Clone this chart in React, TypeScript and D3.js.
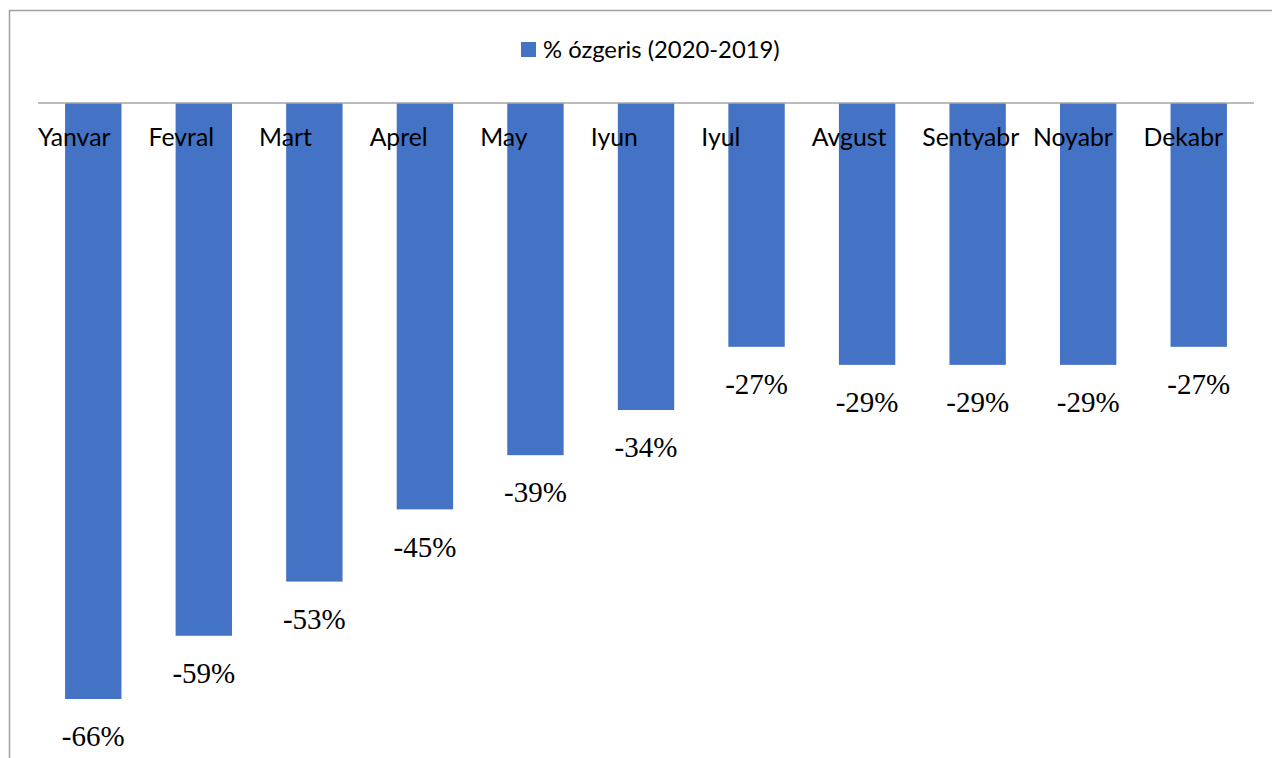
import React from "react";
import * as d3 from "d3";

const categories = ["Yanvar", "Fevral", "Mart", "Aprel", "May", "Iyun", "Iyul", "Avgust", "Sentyabr", "Noyabr", "Dekabr"];
const values = [-66, -59, -53, -45, -39, -34, -27, -29, -29, -29, -27];
const seriesName = "% ózgeris (2020-2019)";

const W = 1272;
const H = 758;
const BAR = "#4472C4";
const SANS = "Lato, 'Open Sans', sans-serif";
const SERIF = "'Liberation Serif', 'Times New Roman', serif";

export default function App() {
  const x = d3.scaleBand<string>().domain(categories).range([38, 1254]).paddingInner(0.49).paddingOuter(0.245);
  const y = d3.scaleLinear().domain([0, -70]).range([103, 103 + 70 * 9.03]);
  const outer = (x.step() - x.bandwidth()) / 2;
  const fmt = (v: number) => String(Math.round(v)).replace("\u2212", "-") + "%";
  return (
    <svg width={W} height={H} style={{ position: "absolute", left: 0, top: 0, background: "#fff" }}>
      <rect x={9.5} y={10.5} width={W + 20} height={H + 20} fill="#fff" stroke="#a0a0a0" strokeWidth={1.5} />
      {categories.map((c, i) => (
        <rect key={c} x={x(c)} y={y(0)} width={x.bandwidth()} height={y(values[i]) - y(0)} fill={BAR} />
      ))}
      <line x1={38} x2={1254} y1={y(0)} y2={y(0)} stroke="#a6a6a6" strokeWidth={1.5} />
      {categories.map((c) => (
        <text key={"l" + c} x={(x(c) as number) - outer} y={146} fontFamily={SANS} fontSize={24.8} fill="#000">{c}</text>
      ))}
      {categories.map((c, i) => (
        <text key={"v" + c} x={(x(c) as number) + x.bandwidth() / 2} y={y(values[i]) + 37} dy="0.35em" textAnchor="middle" fontFamily={SERIF} fontSize={29} fill="#000">
          {fmt(values[i])}
        </text>
      ))}
      <rect x={521} y={42} width={15} height={15} fill={BAR} />
      <text x={543} y={50} dy="0.35em" fontFamily={SANS} fontSize={23.8} fill="#000">{seriesName}</text>
    </svg>
  );
}
